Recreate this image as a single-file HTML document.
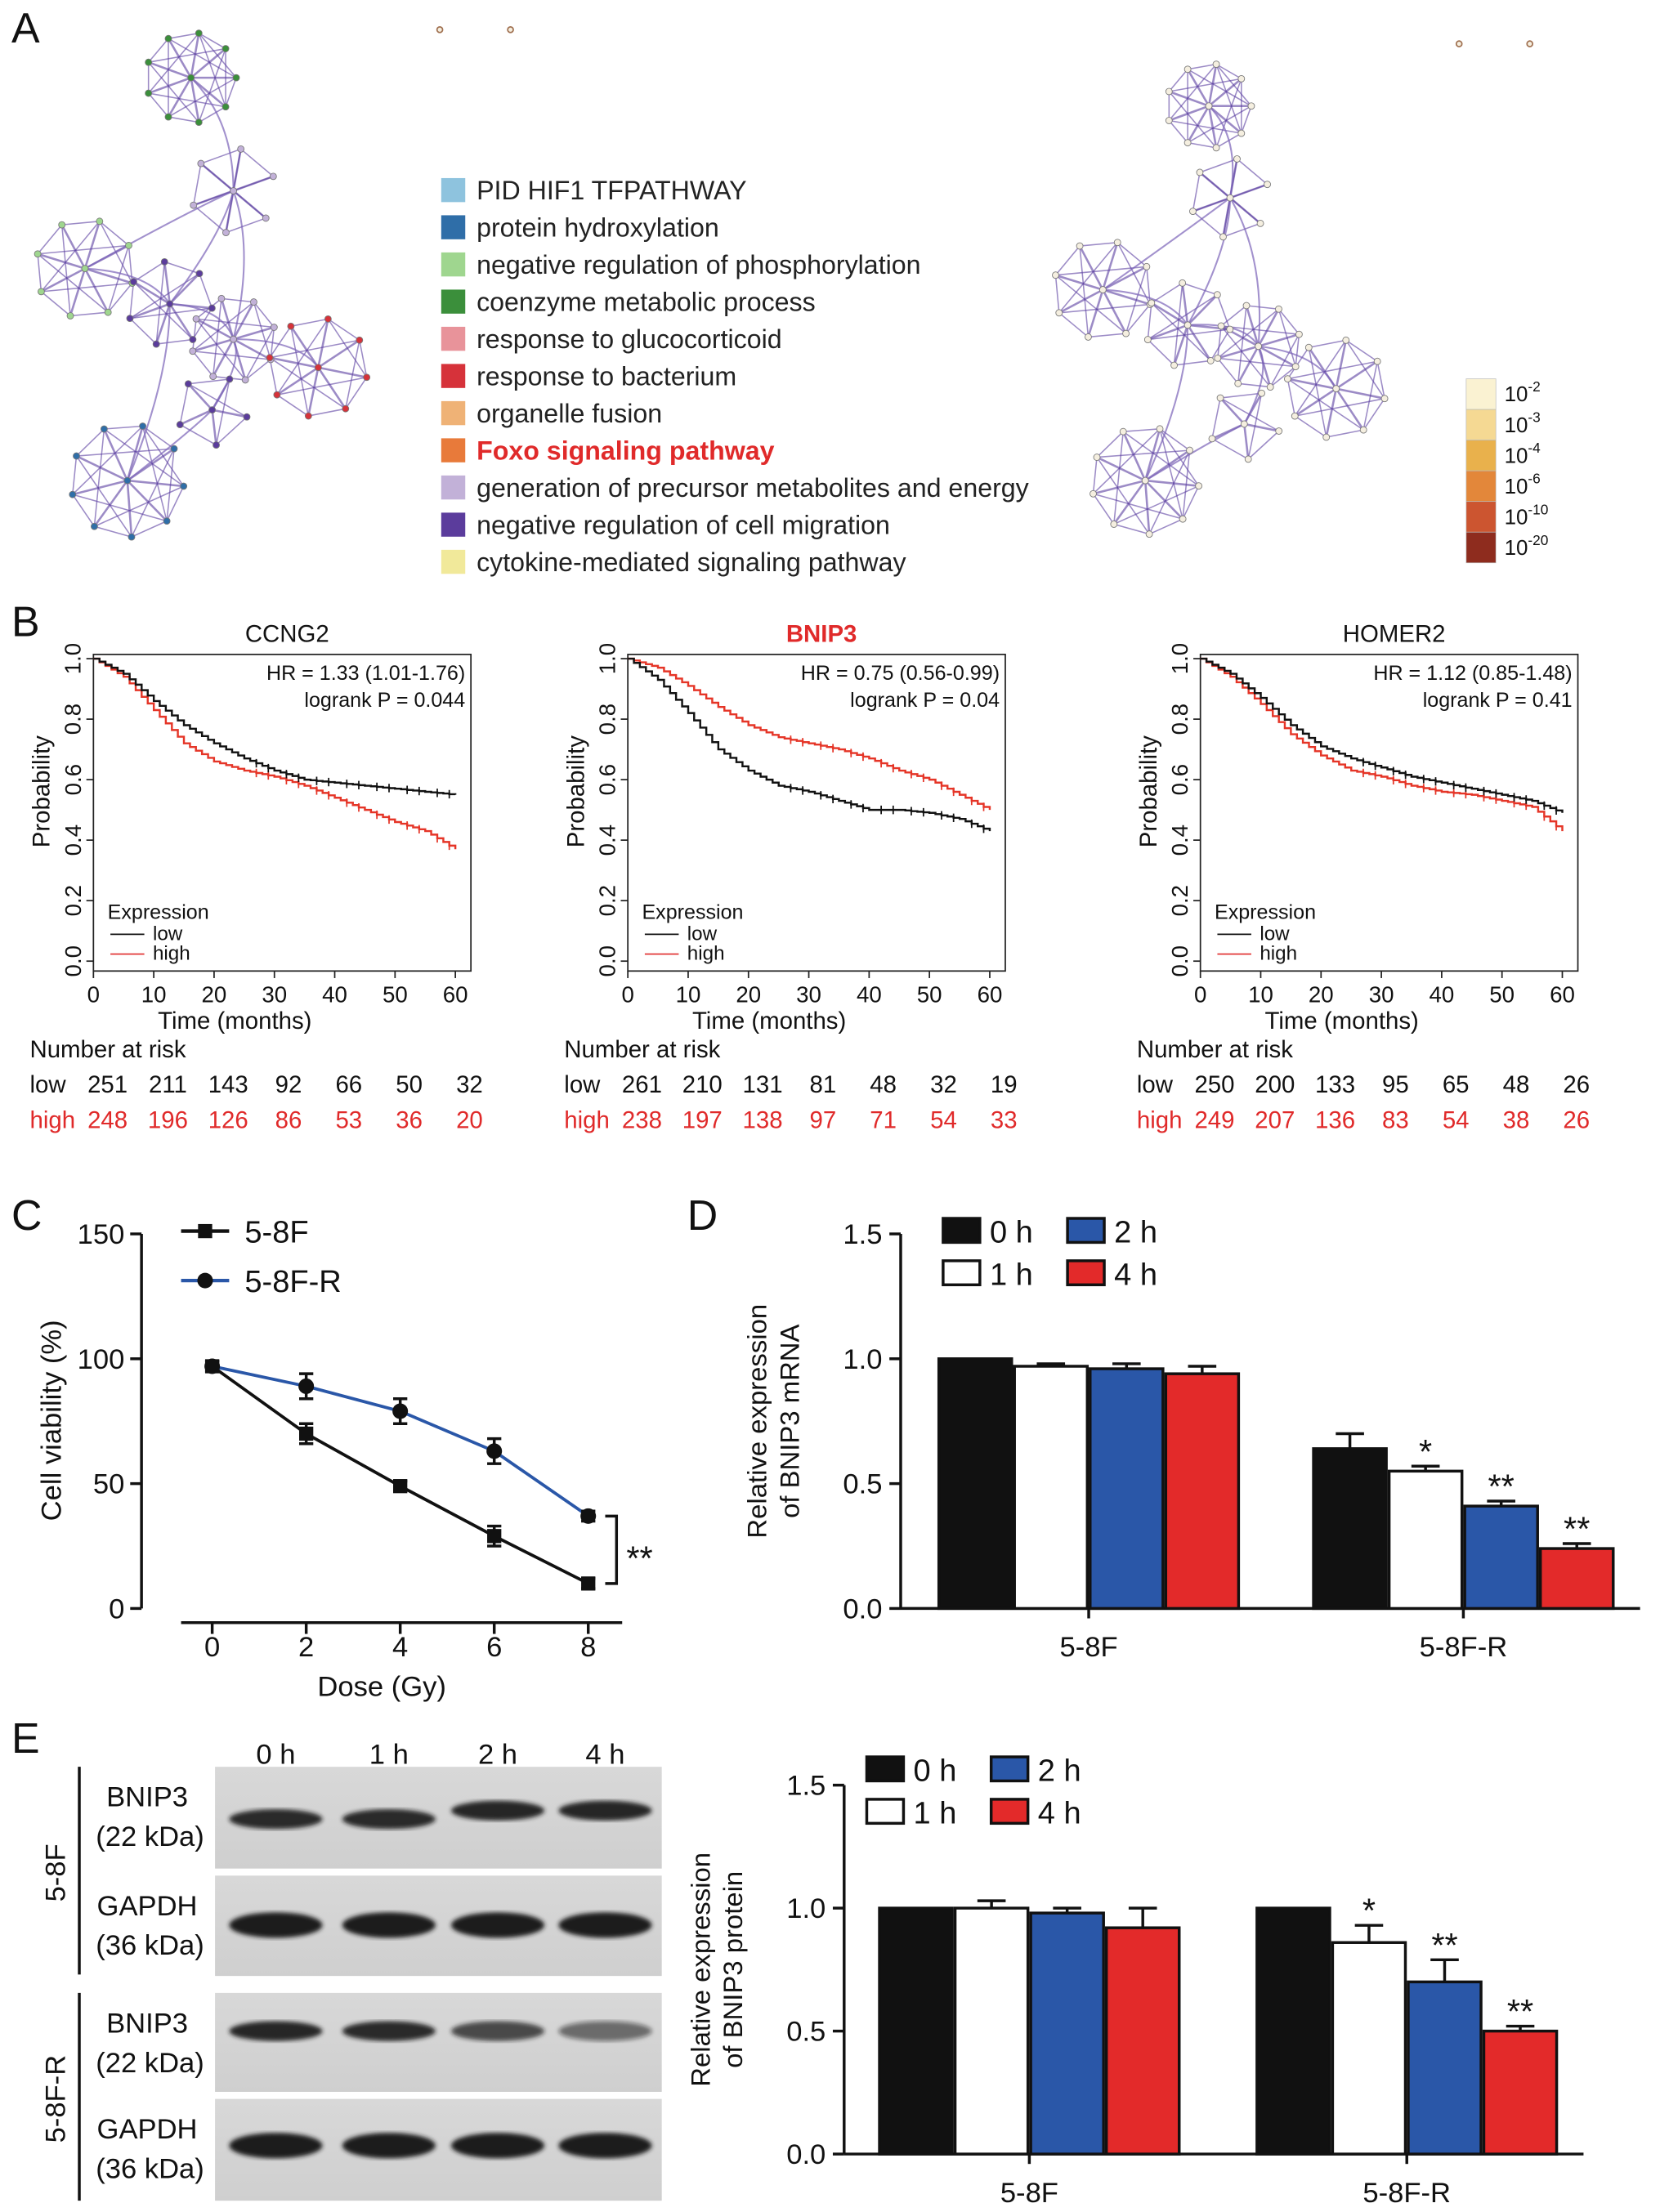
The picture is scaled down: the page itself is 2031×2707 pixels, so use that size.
<!DOCTYPE html>
<html><head><meta charset="utf-8"><style>
html,body{margin:0;padding:0;background:#fff}
svg{display:block}
text{font-family:"Liberation Sans",Arial,sans-serif}
</style></head><body>
<svg id="fig" xmlns="http://www.w3.org/2000/svg" width="2031" height="2707" viewBox="0 0 1174 1565">
<defs>
<filter id="blur2"><feGaussianBlur stdDeviation="1.5"/></filter>
<linearGradient id="blotbg" x1="0" x2="0" y1="0" y2="1"><stop offset="0" stop-color="#d8d8d8"/><stop offset="1" stop-color="#cfcfcf"/></linearGradient>
</defs>
<g id="root"></g>
</svg>
<script>
// ---------- DATA ----------
const legendLabels=["PID HIF1 TFPATHWAY","protein hydroxylation","negative regulation of phosphorylation","coenzyme metabolic process","response to glucocorticoid","response to bacterium","organelle fusion","Foxo signaling pathway","generation of precursor metabolites and energy","negative regulation of cell migration","cytokine-mediated signaling pathway"];
const legendColors=["#8ec3de","#2f6ea8","#9fd68f","#3b8f3b","#e8939a","#d6323a","#efb276","#e87a3a","#c2b1d8","#5b3c9c","#f1e99a"];
const cbarLabels=["2","3","4","6","10","20"];
const cbarColors=["#faf2d2","#f5d993","#e9b14c","#e3873a","#cc5530","#8e2c1e"];

const kmTitles=["CCNG2","BNIP3","HOMER2"];
const kmHR=["HR = 1.33 (1.01-1.76)","HR = 0.75 (0.56-0.99)","HR = 1.12 (0.85-1.48)"];
const kmP=["logrank P = 0.044","logrank P = 0.04","logrank P = 0.41"];
const kmTimes=[0,5,10,15,20,25,30,35,40,45,50,55,60];
const kmLow0=[1,0.95,0.86,0.78,0.72,0.67,0.63,0.60,0.59,0.58,0.57,0.56,0.55];
const kmHigh0=[1,0.94,0.83,0.72,0.66,0.63,0.61,0.58,0.54,0.50,0.46,0.43,0.37];
const kmLow1=[1,0.93,0.82,0.70,0.63,0.58,0.56,0.53,0.50,0.50,0.49,0.47,0.43];
const kmHigh1=[1,0.97,0.91,0.84,0.78,0.74,0.72,0.70,0.67,0.63,0.60,0.55,0.50];
const kmLow2=[1,0.95,0.87,0.78,0.71,0.67,0.64,0.61,0.59,0.57,0.55,0.53,0.49];
const kmHigh2=[1,0.94,0.85,0.75,0.68,0.63,0.61,0.58,0.56,0.55,0.53,0.51,0.43];
const riskLow=[[251,211,143,92,66,50,32],[261,210,131,81,48,32,19],[250,200,133,95,65,48,26]];
const riskHigh=[[248,196,126,86,53,36,20],[238,197,138,97,71,54,33],[249,207,136,83,54,38,26]];
const kmXTicks=[0,10,20,30,40,50,60];
const kmYTicks=["0.0","0.2","0.4","0.6","0.8","1.0"];

const cDoses=[0,2,4,6,8];
const c58F=[97,70,49,29,10];
const c58FErr=[2,4,2,4,2];
const c58FR=[97,89,79,63,37];
const c58FRErr=[2,5,5,5,2];
const cYTicks=[0,50,100,150];

const barGroups=["5-8F","5-8F-R"];
const barTimes=["0 h","1 h","2 h","4 h"];
const barColors=["#111","#fff","#2a57a8","#e32a2a"];
const dVals=[[1.0,0.97,0.96,0.94],[0.64,0.55,0.41,0.24]];
const dErr=[[0,0.01,0.02,0.03],[0.06,0.02,0.02,0.02]];
const dStars=[["","","",""],["","*","**","**"]];
const eVals=[[1.0,1.0,0.98,0.92],[1.0,0.86,0.70,0.50]];
const eErr=[[0,0.03,0.02,0.08],[0,0.07,0.09,0.02]];
const eStars=[["","","",""],["","*","**","**"]];
const barYTicks=["0.0","0.5","1.0","1.5"];
const blotBnip5=[0.9,0.9,0.95,0.95];
const blotBnipR=[0.95,0.9,0.75,0.55];

// ---------- helpers ----------
const NS="http://www.w3.org/2000/svg";
const root=document.getElementById('root');
function el(tag,attrs,parent,txt){const e=document.createElementNS(NS,tag);for(const k in attrs)e.setAttribute(k,attrs[k]);if(txt!==undefined)e.textContent=txt;(parent||root).appendChild(e);return e;}
function g(name,parent){const e=el('g',{},parent);return e;}
function T(parent,x,y,s,size,opts){opts=opts||{};const t=el('text',{x:x,y:y,'font-size':size,fill:opts.fill||'#111','text-anchor':opts.anchor||'start','font-weight':opts.bold?'bold':'normal'},parent,s);if(opts.rot)t.setAttribute('transform','rotate('+opts.rot+' '+x+' '+y+')');return t;}

[["A",8,30],["B",8,450],["C",8,870],["D",486,870],["E",8,1240]].forEach(p=>{T(root,p[1],p[2],p[0],30,{name:'panel-label-'+p[0].toLowerCase()});});

// ---------- Panel A networks ----------
function network(name,clusters,links,colored){
  const G=g(name);
  const nodes=[];
  clusters.forEach((c,ci)=>{
    const pts=[];
    for(let i=0;i<c.n;i++){const a=i/c.n*2*Math.PI+c.r0;pts.push([c.x+c.r*Math.cos(a),c.y+c.r*Math.sin(a)]);}
    pts.push([c.x,c.y]);
    for(let i=0;i<pts.length;i++)for(let j=i+1;j<pts.length;j++){
      if(((j-i)%3===2||(j-i)===4)&&j!==pts.length-1)continue;
      el('line',{x1:pts[i][0],y1:pts[i][1],x2:pts[j][0],y2:pts[j][1],stroke:'#5a3da0','stroke-width':(j===pts.length-1?1.5:0.9),'stroke-opacity':0.6},G);}
    pts.forEach(p=>nodes.push([p[0],p[1],c.col]));
  });
  links.forEach(l=>{const a=clusters[l[0]],b=clusters[l[1]];el('path',{d:`M${a.x},${a.y} Q${(a.x+b.x)/2+15},${(a.y+b.y)/2-10} ${b.x},${b.y}`,fill:'none',stroke:'#7a62b8','stroke-width':1.2,'stroke-opacity':0.7},G);});
  nodes.forEach(n=>el('circle',{cx:n[0],cy:n[1],r:2.3,fill:colored?n[2]:'#f5efe0',stroke:'#777','stroke-width':0.5},G));
}
const clL=[{x:135,y:55,r:32,n:9,r0:0,col:'#3b8f3b'},{x:60,y:190,r:35,n:8,r0:0.3,col:'#9fd68f'},{x:120,y:215,r:30,n:7,r0:0.1,col:'#5b3c9c'},{x:165,y:240,r:30,n:8,r0:0.5,col:'#c2b1d8'},{x:225,y:260,r:35,n:8,r0:0.2,col:'#d6323a'},{x:90,y:340,r:40,n:9,r0:0.1,col:'#2f6ea8'},{x:165,y:135,r:30,n:6,r0:0.7,col:'#c2b1d8'},{x:150,y:290,r:25,n:5,r0:0.2,col:'#5b3c9c'}];
const clR=[{x:855,y:75,r:30,n:9,r0:0,col:''},{x:780,y:205,r:35,n:8,r0:0.3,col:''},{x:840,y:230,r:30,n:7,r0:0.1,col:''},{x:890,y:245,r:30,n:8,r0:0.5,col:''},{x:945,y:275,r:35,n:8,r0:0.2,col:''},{x:810,y:340,r:38,n:9,r0:0.1,col:''},{x:870,y:140,r:28,n:6,r0:0.7,col:''},{x:880,y:300,r:25,n:5,r0:0.2,col:''}];
const lk=[[0,6],[6,2],[1,2],[2,3],[3,4],[3,7],[7,5],[6,3],[1,6],[5,2]];
network('network-left',clL,lk,true);
network('network-right',clR,lk,false);
[[311,21],[361,21],[1032,31],[1082,31]].forEach(p=>el('circle',{cx:p[0],cy:p[1],r:2,fill:'#f5efe0',stroke:'#a07050'}));

const LG=g('network-legend');
legendLabels.forEach((s,i)=>{const y=135+i*26.3;
  const r=el('rect',{x:312,y:y-9,width:17,height:17,fill:legendColors[i]},LG);
  T(LG,337,y+6,s,18.6,{fill:i===7?'#e02a2a':'#222',bold:i===7,name:'legend-entry'});});
const CB=g('pvalue-colorbar');
cbarColors.forEach((c,i)=>{const y=268+i*21.7;el('rect',{x:1037,y:y,width:21,height:21.7,fill:c,stroke:'#bbb','stroke-width':0.4},CB);
  const t=T(CB,1064,y+16,'10',15,{name:'colorbar-tick'});el('tspan',{'font-size':10,dy:-7},t,'-'+cbarLabels[i]);});

// ---------- Panel B KM ----------
const kmX0=[66,444,849];
const kmLows=[kmLow0,kmLow1,kmLow2],kmHighs=[kmHigh0,kmHigh1,kmHigh2];
kmX0.forEach((x0,k)=>{
  const G=g('km-plot-'+kmTitles[k].toLowerCase());
  const W=267,yTop=463,yBot=687;
  const sx=t=>x0+t*(256/60), sy=p=>680-p*214;
  T(G,x0+137,454,kmTitles[k],17,{anchor:'middle',fill:k===1?'#e02a2a':'#111',bold:k===1,name:'km-title'});
  el('rect',{x:x0,y:yTop,width:W,height:yBot-yTop,fill:'none',stroke:'#222','stroke-width':1},G);
  kmXTicks.forEach(t=>{el('line',{x1:sx(t),x2:sx(t),y1:yBot,y2:yBot+5,stroke:'#222'},G);T(G,sx(t),709,String(t),16,{anchor:'middle',name:'x-tick'});});
  kmYTicks.forEach((s,i)=>{const y=sy(i*0.2);el('line',{x1:x0-5,x2:x0,y1:y,y2:y,stroke:'#222'},G);T(G,x0-9,y,s,16,{anchor:'middle',rot:-90,name:'y-tick'});});
  T(G,x0+100,728,'Time (months)',17,{anchor:'middle',name:'x-axis-title'});
  T(G,x0-31,560,'Probability',17,{anchor:'middle',rot:-90,name:'y-axis-title'});
  T(G,x0+263,481,kmHR[k],14.5,{anchor:'end',name:'hazard-ratio'});
  T(G,x0+263,500,kmP[k],14.5,{anchor:'end',name:'logrank-p'});
  T(G,x0+10,650,'Expression',14.5,{name:'km-legend-title'});
  el('line',{x1:x0+12,x2:x0+36,y1:661,y2:661,stroke:'#111'},G);T(G,x0+42,665,'low',14,{name:'km-legend-low'});
  el('line',{x1:x0+12,x2:x0+36,y1:675,y2:675,stroke:'#e02a2a'},G);T(G,x0+42,679,'high',14,{name:'km-legend-high'});
  [[kmHighs[k],'#e53527','km-high'],[kmLows[k],'#111','km-low']].forEach(s=>{
    let d='M'+sx(0)+','+sy(s[0][0]);let cens='';
    for(let i=1;i<kmTimes.length;i++){const ta=kmTimes[i-1],tb=kmTimes[i],pa=s[0][i-1],pb=s[0][i];
      for(let j=1;j<=5;j++){const t=ta+(tb-ta)*j/5,p=pa+(pb-pa)*j/5;d+=` H${sx(t).toFixed(1)} V${sy(p).toFixed(1)}`;
        if(kmTimes[i]>=30&&j%2===0)cens+=`M${sx(t).toFixed(1)},${(sy(p)-3).toFixed(1)}v6`;}}
    const p=el('path',{d:d,fill:'none',stroke:s[1],'stroke-width':1.4},G);
    el('path',{d:cens,stroke:s[1],'stroke-width':1},G);
  });
  T(G,x0-45,748,'Number at risk',17,{name:'risk-title'});
  T(G,x0-45,773,'low',17,{name:'risk-low-label'});T(G,x0-45,798,'high',17,{fill:'#e02a2a',name:'risk-high-label'});
  riskLow[k].forEach((v,i)=>T(G,sx(kmXTicks[i])+10,773,String(v),17,{anchor:'middle',name:'risk-low-value'}));
  riskHigh[k].forEach((v,i)=>T(G,sx(kmXTicks[i])+10,798,String(v),17,{anchor:'middle',fill:'#e02a2a',name:'risk-high-value'}));
});

// ---------- Panel C ----------
(function(){
  const G=g('cell-viability-chart');
  const sx=d=>150+d*33.25, sy=v=>1138-v*(265/150);
  el('line',{x1:100,x2:100,y1:sy(150),y2:sy(0),stroke:'#111','stroke-width':2},G);
  el('line',{x1:128,x2:440,y1:1148,y2:1148,stroke:'#111','stroke-width':2},G);
  cYTicks.forEach(v=>{el('line',{x1:92,x2:100,y1:sy(v),y2:sy(v),stroke:'#111','stroke-width':2},G);T(G,88,sy(v)+7,String(v),20,{anchor:'end',name:'y-tick'});});
  cDoses.forEach(d=>{el('line',{x1:sx(d),x2:sx(d),y1:1148,y2:1156,stroke:'#111','stroke-width':2},G);T(G,sx(d),1172,String(d),20,{anchor:'middle',name:'x-tick'});});
  T(G,270,1200,'Dose (Gy)',20,{anchor:'middle',name:'x-axis-title'});
  T(G,43,1005,'Cell viability (%)',20,{anchor:'middle',rot:-90,name:'y-axis-title'});
  [[c58F,c58FErr,'#111','square','series-5-8f'],[c58FR,c58FRErr,'#2a57a8','circle','series-5-8f-r']].forEach(s=>{
    const pts=cDoses.map((d,i)=>sx(d)+','+sy(s[0][i])).join(' ');
    const pl=el('polyline',{points:pts,fill:'none',stroke:s[2],'stroke-width':2.2},G);
    cDoses.forEach((d,i)=>{const x=sx(d),y=sy(s[0][i]),e=s[1][i]*265/150;
      el('path',{d:`M${x},${y-e}V${y+e}M${x-5},${y-e}h10M${x-5},${y+e}h10`,stroke:'#111','stroke-width':2},G);
      if(s[3]==='square')el('rect',{x:x-5,y:y-5,width:10,height:10,fill:'#111'},G);else el('circle',{cx:x,cy:y,r:5.5,fill:'#111'},G);});
  });
  el('path',{d:`M428,${sy(37)}h8V${sy(10)}h-8`,fill:'none',stroke:'#111','stroke-width':2},G);
  T(G,443,1111,'**',24,{name:'significance-stars'});
  el('line',{x1:128,x2:162,y1:871,y2:871,stroke:'#111','stroke-width':2.5},G);el('rect',{x:140,y:866,width:10,height:10,fill:'#111'},G);
  T(G,173,879,'5-8F',22,{name:'legend-5-8f'});
  el('line',{x1:128,x2:162,y1:906,y2:906,stroke:'#2a57a8','stroke-width':2.5},G);el('circle',{cx:145,cy:906,r:5.5,fill:'#111'},G);
  T(G,173,914,'5-8F-R',22,{name:'legend-5-8f-r'});
})();

// ---------- bar charts ----------
function barChart(name,ax,y0,y15,g1x,g2x,vals,errs,stars,ytitle,lx,ly,labY){
  const G=g(name);const sy=v=>y0-v*(y0-y15)/1.5;const bw=53.5;
  el('line',{x1:ax,x2:ax,y1:y15,y2:y0,stroke:'#111','stroke-width':2},G);
  el('line',{x1:ax,x2:g2x+4*bw+18,y1:y0,y2:y0,stroke:'#111','stroke-width':2},G);
  barYTicks.forEach((s,i)=>{const y=sy(i*0.5);el('line',{x1:ax-8,x2:ax,y1:y,y2:y,stroke:'#111','stroke-width':2},G);T(G,ax-13,y+7,s,20,{anchor:'end',name:'y-tick'});});
  [g1x,g2x].forEach((gx,gi)=>{
    el('line',{x1:gx+2*bw,x2:gx+2*bw,y1:y0,y2:y0+7,stroke:'#111','stroke-width':2},G);
    T(G,gx+2*bw,labY,barGroups[gi],20,{anchor:'middle',name:'x-tick'});
    vals[gi].forEach((v,i)=>{const x=gx+i*bw,y=sy(v);
      const r=el('rect',{x:x+1,y:y,width:bw-2,height:y0-y,fill:barColors[i],stroke:'#111','stroke-width':2},G);
      
      const e=errs[gi][i]*(y0-y15)/1.5;
      if(e>0)el('path',{d:`M${x+bw/2},${y}V${y-e}M${x+bw/2-10},${y-e}h20`,stroke:'#111','stroke-width':2},G);
      if(stars[gi][i])T(G,x+bw/2,y-e-2,stars[gi][i],24,{anchor:'middle',name:'significance-stars'});
    });
  });
  const rows=[0,2,1,3];
  rows.forEach(r=>{const x=lx+(r>=2?88:0), y=ly+(r%2)*30;
    el('rect',{x:x,y:y-8,width:26,height:17,fill:barColors[r],stroke:'#111','stroke-width':2},G);
    T(G,x+33,y+9,barTimes[r],22,{name:'legend-entry'});});
  T(G,ax-95,(y0+y15)/2,ytitle[0],19,{anchor:'middle',rot:-90,name:'y-axis-title'});
  T(G,ax-72,(y0+y15)/2,ytitle[1],19,{anchor:'middle',rot:-90,name:'y-axis-title'});
}
barChart('bnip3-mrna-chart',637,1138,873,663,928,dVals,dErr,dStars,['Relative expression','of BNIP3 mRNA'],667,870,1172);
barChart('bnip3-protein-chart',597,1524,1263,621,888,eVals,eErr,eStars,['Relative expression','of BNIP3 protein'],613,1251,1558);

// ---------- Western blots ----------
(function(){
  const G=g('western-blot');
  const lanes=[195,275,352,428];
  ['0 h','1 h','2 h','4 h'].forEach((s,i)=>T(G,lanes[i],1248,s,20,{anchor:'middle',name:'lane-label'}));
  const panels=[[1250,1322,1287,blotBnip5,'BNIP3'],[1327,1398,1362,[1,1,1,1],'GAPDH'],[1410,1480,1437,blotBnipR,'BNIP3'],[1485,1557,1518,[1,1,1,1],'GAPDH']];
  panels.forEach((p,k)=>{
    const r=el('rect',{x:152,y:p[0],width:316,height:p[1]-p[0],fill:'url(#blotbg)'},G);
    lanes.forEach((x,i)=>el('ellipse',{cx:x,cy:p[2]+(k===0&&i>=2?-6:0),rx:33,ry:(p[4]==='GAPDH'?9:7),fill:'#1a1a1a','fill-opacity':p[3][i],filter:'url(#blur2)'},G));
    T(G,104,p[0]+28,p[4],20,{anchor:'middle',name:'protein-label'});
    T(G,106,p[0]+56,p[4]==='GAPDH'?'(36 kDa)':'(22 kDa)',20,{anchor:'middle',name:'kda-label'});
  });
  el('line',{x1:56,x2:56,y1:1250,y2:1397,stroke:'#111','stroke-width':2},G);
  el('line',{x1:56,x2:56,y1:1410,y2:1557,stroke:'#111','stroke-width':2},G);
  T(G,46,1325,'5-8F',20,{anchor:'middle',rot:-90,name:'row-label-5-8f'});
  T(G,46,1485,'5-8F-R',20,{anchor:'middle',rot:-90,name:'row-label-5-8f-r'});
})();
</script>
</body></html>
